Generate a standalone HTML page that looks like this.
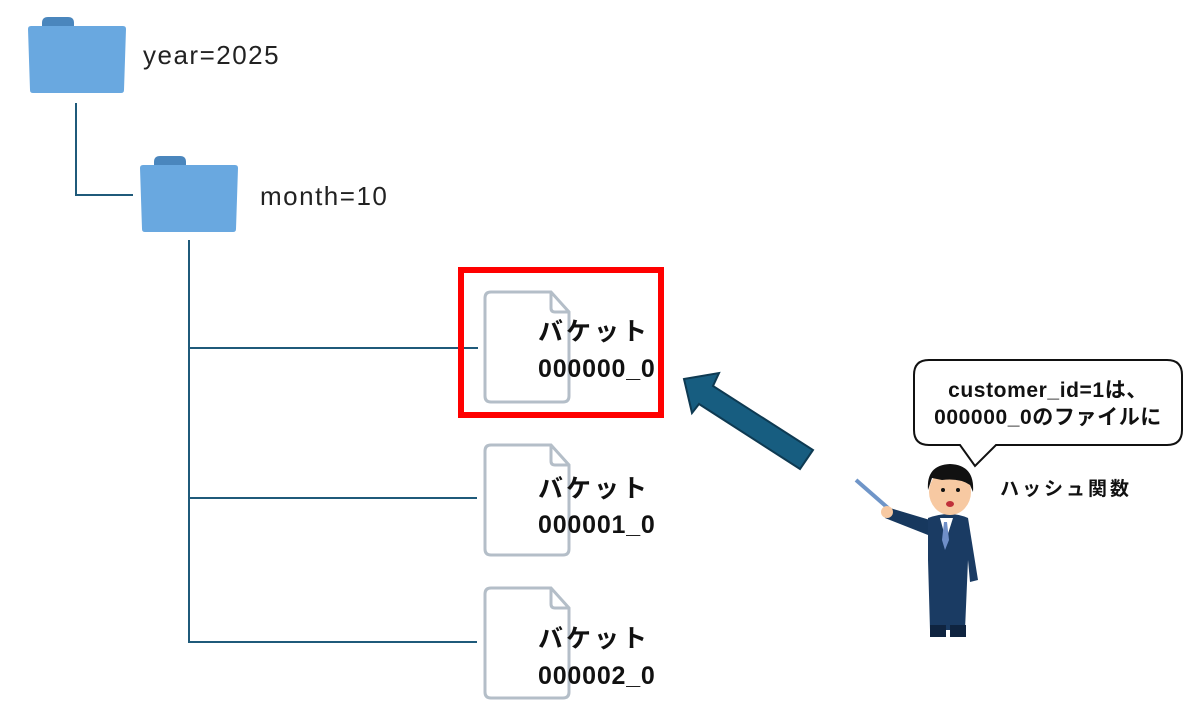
<!DOCTYPE html>
<html><head><meta charset="utf-8"><style>
body{margin:0;background:#fff;}
svg{display:block}
</style></head><body>
<svg width="1200" height="722" viewBox="0 0 1200 722" xmlns="http://www.w3.org/2000/svg">
<defs>
<g id="folder">
<path d="M14 6 Q14 0 20 0 L40 0 Q46 0 46 6 L46 9 L14 9 Z" fill="#4a86bd"/>
<path d="M3 9 L95 9 Q98 9 98 12 L96 73 Q96 76 93 76 L5 76 Q2 76 2 73 L0 12 Q0 9 3 9 Z" fill="#69a8e0"/>
</g>
<g id="file">
<path d="M6 0 L66 0 L84 20 L84 104 Q84 110 78 110 L6 110 Q0 110 0 104 L0 6 Q0 0 6 0 Z" fill="#fff" stroke="#b4bec8" stroke-width="3"/>
<path d="M66 0 L66 16 Q66 20 70 20 L84 20" fill="none" stroke="#b4bec8" stroke-width="3"/>
</g>
</defs>
<g font-family="Liberation Sans, Noto Sans CJK JP, sans-serif">
<use href="#folder" x="28" y="17"/>
<use href="#folder" x="140" y="156"/>
<text x="143" y="64" font-size="26" letter-spacing="1.5" fill="#222">year=2025</text>
<text x="260" y="205" font-size="26" letter-spacing="1.5" fill="#222">month=10</text>
<g stroke="#1f5a7a" stroke-width="2" fill="none">
<path d="M76 103 V195 H133"/>
<path d="M189 240 V642 H477"/>
<path d="M189 348 H478"/>
<path d="M189 498 H477"/>
</g>
<use href="#file" x="485" y="292"/>
<use href="#file" x="485" y="445"/>
<use href="#file" x="485" y="588"/>
<g font-size="25" font-weight="bold" fill="#111">
<text x="538" y="340" letter-spacing="3">バケット</text>
<text x="538" y="377" letter-spacing="0.8">000000_0</text>
<text x="538" y="497" letter-spacing="3">バケット</text>
<text x="538" y="533" letter-spacing="0.8">000001_0</text>
<text x="538" y="647" letter-spacing="3">バケット</text>
<text x="538" y="684" letter-spacing="0.8">000002_0</text>
</g>
<rect x="461" y="270" width="200" height="145" fill="none" stroke="#f00" stroke-width="6"/>
<polygon points="684,379 719,373 713,386 813,450 800,469 699,404 692,413" fill="#175d80" stroke="#0e3a52" stroke-width="2"/>
<path d="M929 360 H1167 Q1182 360 1182 375 V430 Q1182 445 1167 445 H996 L975 466 L960 445 H929 Q914 445 914 430 V375 Q914 360 929 360 Z" fill="#fff" stroke="#111" stroke-width="2"/>
<text x="1048" y="397" font-size="21" letter-spacing="0.6" font-weight="bold" text-anchor="middle" fill="#111">customer_id=1は、</text>
<text x="1048" y="424" font-size="21" letter-spacing="0.6" font-weight="bold" text-anchor="middle" fill="#111">000000_0のファイルに</text>
<text x="1000" y="495" font-size="19" letter-spacing="3" font-weight="bold" fill="#111">ハッシュ関数</text>
<line x1="856" y1="480" x2="888" y2="508" stroke="#6f95c8" stroke-width="4"/>
<path d="M930 520 L890 508 L885 518 L928 535 Z" fill="#17385e"/>
<circle cx="887" cy="512" r="6" fill="#f7c9a2"/>
<path d="M928 518 Q950 510 968 518 L978 580 L970 582 L968 560 L965 630 L930 630 L928 560 Z" fill="#1a3b63"/>
<path d="M940 518 L946 540 L953 518 Z" fill="#fff"/>
<path d="M944 522 L947 522 L949 540 L945 550 L942 540 Z" fill="#6f8fc8"/>
<rect x="930" y="625" width="16" height="12" fill="#0f2440"/>
<rect x="950" y="625" width="16" height="12" fill="#0f2440"/>
<ellipse cx="950" cy="492" rx="21" ry="23" fill="#f7c9a2"/>
<path d="M928 490 Q926 465 950 464 Q975 465 973 492 L970 485 Q960 478 942 480 L932 478 Z" fill="#111"/>
<circle cx="943" cy="490" r="2" fill="#111"/><circle cx="958" cy="490" r="2" fill="#111"/>
<ellipse cx="950" cy="504" rx="4" ry="3" fill="#c0303a"/>
</g>
</svg>
</body></html>
